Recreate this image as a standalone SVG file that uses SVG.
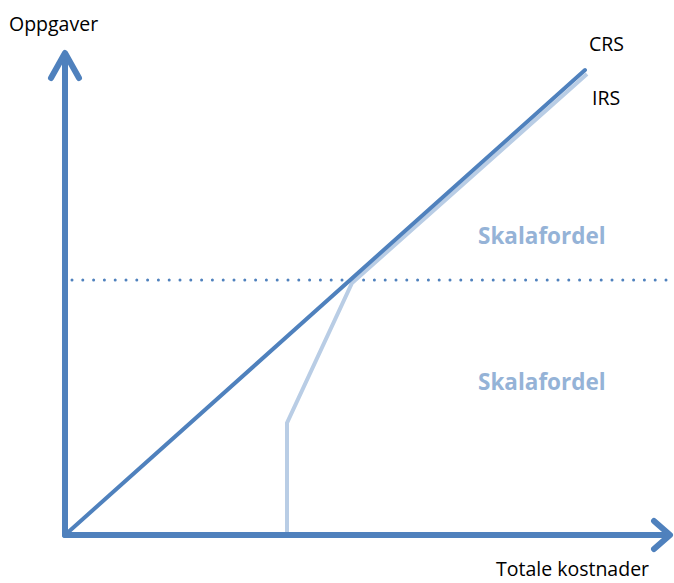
<svg xmlns="http://www.w3.org/2000/svg" width="674" height="583" viewBox="0 0 674 583">
<style>
.axis{fill:none;stroke:#4f81bd;stroke-width:6;stroke-linecap:round;stroke-linejoin:round}
.crs{fill:none;stroke:#4f81bd;stroke-width:4;stroke-linecap:round}
.irs{fill:none;stroke:#b9cde5;stroke-width:4;stroke-linejoin:miter}
.dots{fill:none;stroke:#4f81bd;stroke-width:3;stroke-dasharray:0 10.8;stroke-linecap:round}
.lbl{font-family:"Open Sans","Liberation Sans",sans-serif;font-size:19.5px;fill:#000}
.sk{font-family:"Open Sans","Liberation Sans",sans-serif;font-size:22.5px;font-weight:bold;fill:#95b3d7}
</style>
<rect width="674" height="583" fill="#fff"/>
<g id="connectors">
<line class="dots" x1="72" y1="280" x2="680" y2="280"/>
<polyline id="irs" class="irs" points="287,535 287,423 352,283 587,74"/>
<line id="crs" class="crs" x1="65" y1="535" x2="585" y2="70"/>
<g id="y-axis">
<line class="axis" x1="65" y1="535" x2="65" y2="55"/>
<polyline class="axis" points="51,78 65,53 79,78"/>
</g>
<g id="x-axis">
<line class="axis" x1="65" y1="535" x2="668" y2="535"/>
<polyline class="axis" points="654,521 670,535 654,549"/>
</g>
</g>
<g id="labels">
<text class="lbl" x="9" y="31">Oppgaver</text>
<text class="lbl" x="589" y="51">CRS</text>
<text class="lbl" x="592" y="105">IRS</text>
<text class="lbl" x="496" y="576">Totale kostnader</text>
<text class="sk" x="478" y="244">Skalafordel</text>
<text class="sk" x="478" y="390">Skalafordel</text>
</g>
</svg>
